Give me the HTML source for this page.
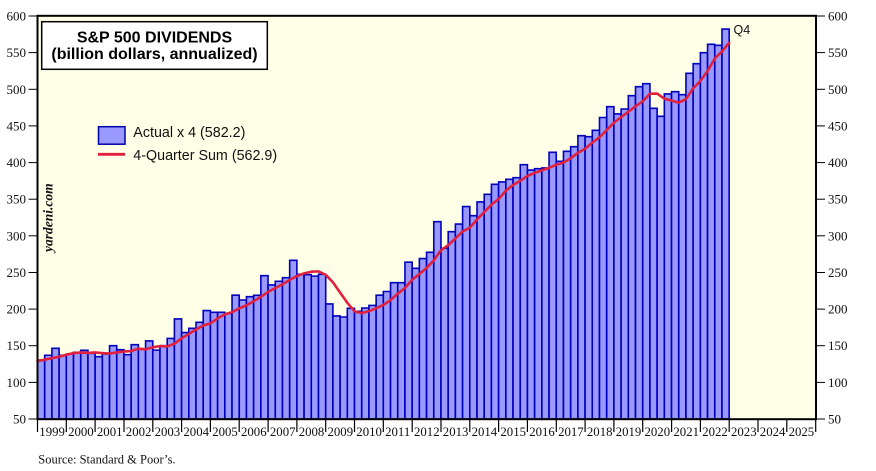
<!DOCTYPE html>
<html><head><meta charset="utf-8"><style>
html,body{margin:0;padding:0;background:#fff;}
svg{display:block;}
</style></head><body>
<svg width="876" height="471" viewBox="0 0 876 471" xmlns="http://www.w3.org/2000/svg">
<rect x="0" y="0" width="876" height="471" fill="#ffffff"/>
<rect x="37.5" y="15.8" width="778.5" height="403.4" fill="#ffffe8"/>
<g transform="matrix(7.205,0,0,-0.7327,37.5,455.635)" fill="#9999ff" stroke="#0000bb" stroke-width="1.6">
<rect vector-effect="non-scaling-stroke" x="0" y="50" width="1" height="80.5"/>
<rect vector-effect="non-scaling-stroke" x="1" y="50" width="1" height="87"/>
<rect vector-effect="non-scaling-stroke" x="2" y="50" width="1" height="96.5"/>
<rect vector-effect="non-scaling-stroke" x="3" y="50" width="1" height="87"/>
<rect vector-effect="non-scaling-stroke" x="4" y="50" width="1" height="88.7"/>
<rect vector-effect="non-scaling-stroke" x="5" y="50" width="1" height="91"/>
<rect vector-effect="non-scaling-stroke" x="6" y="50" width="1" height="93.7"/>
<rect vector-effect="non-scaling-stroke" x="7" y="50" width="1" height="89.7"/>
<rect vector-effect="non-scaling-stroke" x="8" y="50" width="1" height="85"/>
<rect vector-effect="non-scaling-stroke" x="9" y="50" width="1" height="88.7"/>
<rect vector-effect="non-scaling-stroke" x="10" y="50" width="1" height="100"/>
<rect vector-effect="non-scaling-stroke" x="11" y="50" width="1" height="94.6"/>
<rect vector-effect="non-scaling-stroke" x="12" y="50" width="1" height="87.8"/>
<rect vector-effect="non-scaling-stroke" x="13" y="50" width="1" height="101.4"/>
<rect vector-effect="non-scaling-stroke" x="14" y="50" width="1" height="96"/>
<rect vector-effect="non-scaling-stroke" x="15" y="50" width="1" height="106.5"/>
<rect vector-effect="non-scaling-stroke" x="16" y="50" width="1" height="94"/>
<rect vector-effect="non-scaling-stroke" x="17" y="50" width="1" height="100"/>
<rect vector-effect="non-scaling-stroke" x="18" y="50" width="1" height="110"/>
<rect vector-effect="non-scaling-stroke" x="19" y="50" width="1" height="136.5"/>
<rect vector-effect="non-scaling-stroke" x="20" y="50" width="1" height="118"/>
<rect vector-effect="non-scaling-stroke" x="21" y="50" width="1" height="123.8"/>
<rect vector-effect="non-scaling-stroke" x="22" y="50" width="1" height="132"/>
<rect vector-effect="non-scaling-stroke" x="23" y="50" width="1" height="148"/>
<rect vector-effect="non-scaling-stroke" x="24" y="50" width="1" height="145.6"/>
<rect vector-effect="non-scaling-stroke" x="25" y="50" width="1" height="145.6"/>
<rect vector-effect="non-scaling-stroke" x="26" y="50" width="1" height="144"/>
<rect vector-effect="non-scaling-stroke" x="27" y="50" width="1" height="169"/>
<rect vector-effect="non-scaling-stroke" x="28" y="50" width="1" height="162.4"/>
<rect vector-effect="non-scaling-stroke" x="29" y="50" width="1" height="167"/>
<rect vector-effect="non-scaling-stroke" x="30" y="50" width="1" height="168.8"/>
<rect vector-effect="non-scaling-stroke" x="31" y="50" width="1" height="195.6"/>
<rect vector-effect="non-scaling-stroke" x="32" y="50" width="1" height="183"/>
<rect vector-effect="non-scaling-stroke" x="33" y="50" width="1" height="188"/>
<rect vector-effect="non-scaling-stroke" x="34" y="50" width="1" height="192.9"/>
<rect vector-effect="non-scaling-stroke" x="35" y="50" width="1" height="216.6"/>
<rect vector-effect="non-scaling-stroke" x="36" y="50" width="1" height="197.5"/>
<rect vector-effect="non-scaling-stroke" x="37" y="50" width="1" height="197"/>
<rect vector-effect="non-scaling-stroke" x="38" y="50" width="1" height="195"/>
<rect vector-effect="non-scaling-stroke" x="39" y="50" width="1" height="197.5"/>
<rect vector-effect="non-scaling-stroke" x="40" y="50" width="1" height="157"/>
<rect vector-effect="non-scaling-stroke" x="41" y="50" width="1" height="140.6"/>
<rect vector-effect="non-scaling-stroke" x="42" y="50" width="1" height="139.2"/>
<rect vector-effect="non-scaling-stroke" x="43" y="50" width="1" height="151"/>
<rect vector-effect="non-scaling-stroke" x="44" y="50" width="1" height="147"/>
<rect vector-effect="non-scaling-stroke" x="45" y="50" width="1" height="151.5"/>
<rect vector-effect="non-scaling-stroke" x="46" y="50" width="1" height="155"/>
<rect vector-effect="non-scaling-stroke" x="47" y="50" width="1" height="169"/>
<rect vector-effect="non-scaling-stroke" x="48" y="50" width="1" height="174"/>
<rect vector-effect="non-scaling-stroke" x="49" y="50" width="1" height="186"/>
<rect vector-effect="non-scaling-stroke" x="50" y="50" width="1" height="186"/>
<rect vector-effect="non-scaling-stroke" x="51" y="50" width="1" height="214"/>
<rect vector-effect="non-scaling-stroke" x="52" y="50" width="1" height="205.6"/>
<rect vector-effect="non-scaling-stroke" x="53" y="50" width="1" height="219"/>
<rect vector-effect="non-scaling-stroke" x="54" y="50" width="1" height="227.5"/>
<rect vector-effect="non-scaling-stroke" x="55" y="50" width="1" height="269.3"/>
<rect vector-effect="non-scaling-stroke" x="56" y="50" width="1" height="233"/>
<rect vector-effect="non-scaling-stroke" x="57" y="50" width="1" height="255.6"/>
<rect vector-effect="non-scaling-stroke" x="58" y="50" width="1" height="266"/>
<rect vector-effect="non-scaling-stroke" x="59" y="50" width="1" height="290"/>
<rect vector-effect="non-scaling-stroke" x="60" y="50" width="1" height="277.5"/>
<rect vector-effect="non-scaling-stroke" x="61" y="50" width="1" height="296.2"/>
<rect vector-effect="non-scaling-stroke" x="62" y="50" width="1" height="306.6"/>
<rect vector-effect="non-scaling-stroke" x="63" y="50" width="1" height="320.3"/>
<rect vector-effect="non-scaling-stroke" x="64" y="50" width="1" height="323.5"/>
<rect vector-effect="non-scaling-stroke" x="65" y="50" width="1" height="327.1"/>
<rect vector-effect="non-scaling-stroke" x="66" y="50" width="1" height="329.4"/>
<rect vector-effect="non-scaling-stroke" x="67" y="50" width="1" height="347.1"/>
<rect vector-effect="non-scaling-stroke" x="68" y="50" width="1" height="339.8"/>
<rect vector-effect="non-scaling-stroke" x="69" y="50" width="1" height="341.6"/>
<rect vector-effect="non-scaling-stroke" x="70" y="50" width="1" height="342.6"/>
<rect vector-effect="non-scaling-stroke" x="71" y="50" width="1" height="364"/>
<rect vector-effect="non-scaling-stroke" x="72" y="50" width="1" height="351.7"/>
<rect vector-effect="non-scaling-stroke" x="73" y="50" width="1" height="365.3"/>
<rect vector-effect="non-scaling-stroke" x="74" y="50" width="1" height="371.6"/>
<rect vector-effect="non-scaling-stroke" x="75" y="50" width="1" height="386.7"/>
<rect vector-effect="non-scaling-stroke" x="76" y="50" width="1" height="385.3"/>
<rect vector-effect="non-scaling-stroke" x="77" y="50" width="1" height="394"/>
<rect vector-effect="non-scaling-stroke" x="78" y="50" width="1" height="411.5"/>
<rect vector-effect="non-scaling-stroke" x="79" y="50" width="1" height="426.3"/>
<rect vector-effect="non-scaling-stroke" x="80" y="50" width="1" height="416.3"/>
<rect vector-effect="non-scaling-stroke" x="81" y="50" width="1" height="423.1"/>
<rect vector-effect="non-scaling-stroke" x="82" y="50" width="1" height="441.3"/>
<rect vector-effect="non-scaling-stroke" x="83" y="50" width="1" height="453.6"/>
<rect vector-effect="non-scaling-stroke" x="84" y="50" width="1" height="457.7"/>
<rect vector-effect="non-scaling-stroke" x="85" y="50" width="1" height="424"/>
<rect vector-effect="non-scaling-stroke" x="86" y="50" width="1" height="413.1"/>
<rect vector-effect="non-scaling-stroke" x="87" y="50" width="1" height="443.6"/>
<rect vector-effect="non-scaling-stroke" x="88" y="50" width="1" height="446.7"/>
<rect vector-effect="non-scaling-stroke" x="89" y="50" width="1" height="442.6"/>
<rect vector-effect="non-scaling-stroke" x="90" y="50" width="1" height="471.8"/>
<rect vector-effect="non-scaling-stroke" x="91" y="50" width="1" height="485"/>
<rect vector-effect="non-scaling-stroke" x="92" y="50" width="1" height="500"/>
<rect vector-effect="non-scaling-stroke" x="93" y="50" width="1" height="511.4"/>
<rect vector-effect="non-scaling-stroke" x="94" y="50" width="1" height="510"/>
<rect vector-effect="non-scaling-stroke" x="95" y="50" width="1" height="532.2"/>
<polyline vector-effect="non-scaling-stroke" fill="none" stroke="#e0203c" stroke-width="2.6" stroke-linejoin="round" stroke-linecap="round"
points="0,129 1,131 2,133 3,135 4,137.75 5,139.8 6,140.8 7,140.1 8,140.8 9,139.85 10,139.3 11,140.85 12,142.1 13,142.8 14,145.95 15,144.95 16,147.9 17,149.5 18,149.1 19,152.6 20,160.1 21,166.1 22,172.1 23,177.6 24,180.5 25,187.35 26,192.8 27,195.8 28,201.05 29,205.25 30,210.6 31,216.8 32,223.45 33,228.6 34,233.85 35,239.9 36,245.1 37,248.75 38,251 39,251.5 40,246.75 41,236.6 42,222.5 43,208.6 44,196.95 45,194.45 46,197.2 47,201.1 48,205.6 49,212.4 50,221 51,228.75 52,240 53,247.9 54,256.15 55,266.5 56,280.35 57,287.2 58,296.35 59,305.95 60,311.15 61,322.3 62,332.4 63,342.6 64,350.15 65,361.65 66,369.4 67,375.1 68,381.8 69,385.85 70,389.5 71,392.8 72,397 73,400 74,405.9 75,413.15 76,418.8 77,427.2 78,434.4 79,444.4 80,454.3 81,462 82,469.3 83,476.75 84,483.6 85,493.9 86,494.15 87,487.1 88,484.6 89,481.85 90,486.5 91,501.2 92,511.5 93,524.85 94,542.05 95,551.6 96,563.4"/>
</g>
<!-- frame -->
<rect x="37.5" y="15.8" width="778.5" height="403.4" fill="none" stroke="#000" stroke-width="2"/>
<!-- y ticks -->
<g stroke="#000" stroke-width="1">
<line x1="28.5" x2="37.5" y1="16" y2="16"/><line x1="28.5" x2="37.5" y1="52.6" y2="52.6"/><line x1="28.5" x2="37.5" y1="89.3" y2="89.3"/><line x1="28.5" x2="37.5" y1="125.9" y2="125.9"/><line x1="28.5" x2="37.5" y1="162.6" y2="162.6"/><line x1="28.5" x2="37.5" y1="199.2" y2="199.2"/><line x1="28.5" x2="37.5" y1="235.8" y2="235.8"/><line x1="28.5" x2="37.5" y1="272.5" y2="272.5"/><line x1="28.5" x2="37.5" y1="309.1" y2="309.1"/><line x1="28.5" x2="37.5" y1="345.7" y2="345.7"/><line x1="28.5" x2="37.5" y1="382.4" y2="382.4"/><line x1="28.5" x2="37.5" y1="419" y2="419"/>
<line x1="816" x2="825" y1="16" y2="16"/><line x1="816" x2="825" y1="52.6" y2="52.6"/><line x1="816" x2="825" y1="89.3" y2="89.3"/><line x1="816" x2="825" y1="125.9" y2="125.9"/><line x1="816" x2="825" y1="162.6" y2="162.6"/><line x1="816" x2="825" y1="199.2" y2="199.2"/><line x1="816" x2="825" y1="235.8" y2="235.8"/><line x1="816" x2="825" y1="272.5" y2="272.5"/><line x1="816" x2="825" y1="309.1" y2="309.1"/><line x1="816" x2="825" y1="345.7" y2="345.7"/><line x1="816" x2="825" y1="382.4" y2="382.4"/><line x1="816" x2="825" y1="419" y2="419"/>
</g>
<g stroke="#000" stroke-width="1.2">
<line x1="37.5" x2="37.5" y1="419" y2="432"/><line x1="66.3" x2="66.3" y1="419" y2="432"/><line x1="95.1" x2="95.1" y1="419" y2="432"/><line x1="124" x2="124" y1="419" y2="432"/><line x1="152.8" x2="152.8" y1="419" y2="432"/><line x1="181.6" x2="181.6" y1="419" y2="432"/><line x1="210.4" x2="210.4" y1="419" y2="432"/><line x1="239.2" x2="239.2" y1="419" y2="432"/><line x1="268.1" x2="268.1" y1="419" y2="432"/><line x1="296.9" x2="296.9" y1="419" y2="432"/><line x1="325.7" x2="325.7" y1="419" y2="432"/><line x1="354.5" x2="354.5" y1="419" y2="432"/><line x1="383.3" x2="383.3" y1="419" y2="432"/><line x1="412.2" x2="412.2" y1="419" y2="432"/><line x1="441" x2="441" y1="419" y2="432"/><line x1="469.8" x2="469.8" y1="419" y2="432"/><line x1="498.6" x2="498.6" y1="419" y2="432"/><line x1="527.4" x2="527.4" y1="419" y2="432"/><line x1="556.3" x2="556.3" y1="419" y2="432"/><line x1="585.1" x2="585.1" y1="419" y2="432"/><line x1="613.9" x2="613.9" y1="419" y2="432"/><line x1="642.7" x2="642.7" y1="419" y2="432"/><line x1="671.6" x2="671.6" y1="419" y2="432"/><line x1="700.4" x2="700.4" y1="419" y2="432"/><line x1="729.2" x2="729.2" y1="419" y2="432"/><line x1="758" x2="758" y1="419" y2="432"/><line x1="786.8" x2="786.8" y1="419" y2="432"/><line x1="815.7" x2="815.7" y1="419" y2="432"/>
</g>
<g font-family="'Liberation Serif', serif" font-size="13" fill="#111" text-anchor="end">
<text x="26" y="20.5">600</text><text x="26" y="57.1">550</text><text x="26" y="93.8">500</text><text x="26" y="130.4">450</text><text x="26" y="167.1">400</text><text x="26" y="203.7">350</text><text x="26" y="240.3">300</text><text x="26" y="277">250</text><text x="26" y="313.6">200</text><text x="26" y="350.2">150</text><text x="26" y="386.9">100</text><text x="26" y="423.5">50</text>
</g>
<g font-family="'Liberation Serif', serif" font-size="13" fill="#111" text-anchor="start">
<text x="828" y="20.5">600</text><text x="828" y="57.1">550</text><text x="828" y="93.8">500</text><text x="828" y="130.4">450</text><text x="828" y="167.1">400</text><text x="828" y="203.7">350</text><text x="828" y="240.3">300</text><text x="828" y="277">250</text><text x="828" y="313.6">200</text><text x="828" y="350.2">150</text><text x="828" y="386.9">100</text><text x="828" y="423.5">50</text>
</g>
<g font-family="'Liberation Serif', serif" font-size="12.8" fill="#111">
<text x="39.3" y="436">1999</text><text x="68.1" y="436">2000</text><text x="96.9" y="436">2001</text><text x="125.8" y="436">2002</text><text x="154.6" y="436">2003</text><text x="183.4" y="436">2004</text><text x="212.2" y="436">2005</text><text x="241" y="436">2006</text><text x="269.9" y="436">2007</text><text x="298.7" y="436">2008</text><text x="327.5" y="436">2009</text><text x="356.3" y="436">2010</text><text x="385.1" y="436">2011</text><text x="414" y="436">2012</text><text x="442.8" y="436">2013</text><text x="471.6" y="436">2014</text><text x="500.4" y="436">2015</text><text x="529.2" y="436">2016</text><text x="558.1" y="436">2017</text><text x="586.9" y="436">2018</text><text x="615.7" y="436">2019</text><text x="644.5" y="436">2020</text><text x="673.4" y="436">2021</text><text x="702.2" y="436">2022</text><text x="731" y="436">2023</text><text x="759.8" y="436">2024</text><text x="788.6" y="436">2025</text>
</g>
<!-- title box -->
<rect x="41.7" y="21.7" width="225.6" height="47.6" fill="#fff" stroke="#000" stroke-width="1.5"/>
<g font-family="'Liberation Sans', sans-serif" font-weight="bold" font-size="16" fill="#000" text-anchor="middle">
<text x="154.5" y="42.7">S&amp;P 500 DIVIDENDS</text>
<text x="154.5" y="59">(billion dollars, annualized)</text>
</g>
<!-- legend -->
<rect x="98.5" y="126.7" width="26.5" height="17.5" fill="#9999ff" stroke="#0000aa" stroke-width="1.5"/>
<line x1="98" x2="125" y1="154.3" y2="154.3" stroke="#e0203c" stroke-width="2.8"/>
<g font-family="'Liberation Sans', sans-serif" font-size="14.3" fill="#111">
<text x="133.3" y="137">Actual x 4 (582.2)</text>
<text x="133.3" y="160">4-Quarter Sum (562.9)</text>
</g>
<text x="733.5" y="34" font-family="'Liberation Sans', sans-serif" font-size="12.5" fill="#111">Q4</text>
<text transform="translate(52.5,252) rotate(-90)" font-family="'Liberation Serif', serif" font-style="italic" font-weight="bold" font-size="13.5" fill="#111">yardeni.com</text>
<text x="38.3" y="463.5" font-family="'Liberation Serif', serif" font-size="12.5" fill="#111">Source: Standard &amp; Poor’s.</text>
</svg>
</body></html>
